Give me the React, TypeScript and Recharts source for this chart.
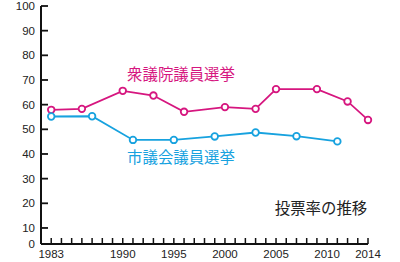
import * as React from "react";
import { LineChart, Line, XAxis, YAxis, ReferenceDot } from "recharts";

// 衆議院議員選挙 (magenta)
const shugiinYears = [1983, 1986, 1990, 1993, 1996, 2000, 2003, 2005, 2009, 2012, 2014];
const shugiinRates = [57.9, 58.3, 65.6, 63.7, 57.1, 59.0, 58.3, 66.3, 66.3, 61.3, 53.8];

// 市議会議員選挙 (cyan)
const shigikaiYears = [1983, 1987, 1991, 1995, 1999, 2003, 2007, 2011];
const shigikaiRates = [55.2, 55.3, 45.7, 45.7, 47.1, 48.7, 47.2, 45.1];

// axis ticks
const yTicks = [3.5, 10, 20, 30, 40, 50, 60, 70, 80, 90, 100];
const xLabelYears = [1983, 1990, 1995, 2000, 2005, 2010, 2014];
const xTickYears = Array.from({ length: 32 }, (_, i) => 1983 + i);

const MAGENTA = "#d6167f";
const CYAN = "#17a2df";
const NUM_FONT = "'Liberation Sans', Arial, sans-serif";
const JP_FONT = "'Noto Sans CJK JP', sans-serif";

const shugiinData = shugiinYears.map((year, i) => ({ year, rate: shugiinRates[i] }));
const shigikaiData = shigikaiYears.map((year, i) => ({ year, rate: shigikaiRates[i] }));

const XTick = (props: any) => {
    const { x, y, payload } = props;
    const showLabel = xLabelYears.includes(payload.value);
    return (
        <g>
            <line x1={x} y1={y} x2={x} y2={y - 6} stroke="#111" strokeWidth={1.5} />
            {showLabel && (
                <text x={x} y={y + 14} textAnchor="middle" fontSize={11.5} fontFamily={NUM_FONT} fill="#222">
                    {payload.value}
                </text>
            )}
        </g>
    );
};

const YTick = (props: any) => {
    const { x, y, payload } = props;
    // the source chart squeezes the bottom step, so "0" sits on the axis line
    const label = payload.value < 5 ? "0" : String(payload.value);
    return (
        <g>
            {payload.value >= 5 && <line x1={x} y1={y} x2={x + 7} y2={y} stroke="#111" strokeWidth={1.8} />}
            <text x={x - 6} y={y + 4} textAnchor="end" fontSize={11.5} fontFamily={NUM_FONT} fill="#222">
                {label}
            </text>
        </g>
    );
};

const seriesLabel = (value: string, fill: string) => ({
    value,
    position: "center" as const,
    fill,
    fontSize: 15.4,
    fontFamily: JP_FONT,
});

export default function App() {
    return (
        <div style={{ position: "absolute", left: 0, top: 0, background: "#fff" }}>
            <LineChart width={400} height={262} margin={{ top: 6, right: 32, bottom: 0, left: 0 }}>
                <XAxis
                    dataKey="year"
                    type="number"
                    domain={[1982, 2014]}
                    ticks={xTickYears}
                    interval={0}
                    tickSize={0}
                    tickMargin={0}
                    tick={<XTick />}
                    height={18}
                    axisLine={{ stroke: "#111", strokeWidth: 2 }}
                    allowDuplicatedCategory={false}
                />
                <YAxis
                    type="number"
                    domain={[3.5, 100]}
                    ticks={yTicks}
                    interval={0}
                    tickSize={0}
                    tickMargin={0}
                    tick={<YTick />}
                    width={41}
                    axisLine={{ stroke: "#111", strokeWidth: 2 }}
                />
                <Line
                    data={shugiinData}
                    dataKey="rate"
                    stroke={MAGENTA}
                    strokeWidth={1.8}
                    dot={{ r: 3.3, fill: "#fff", stroke: MAGENTA, strokeWidth: 1.8 }}
                    isAnimationActive={false}
                />
                <Line
                    data={shigikaiData}
                    dataKey="rate"
                    stroke={CYAN}
                    strokeWidth={1.8}
                    dot={{ r: 3.3, fill: "#fff", stroke: CYAN, strokeWidth: 1.8 }}
                    isAnimationActive={false}
                />
                <ReferenceDot x={1995.7} y={72.1} r={0} fill="none" stroke="none" label={seriesLabel("衆議院議員選挙", MAGENTA)} />
                <ReferenceDot x={1995.7} y={38.5} r={0} fill="none" stroke="none" label={seriesLabel("市議会議員選挙", CYAN)} />
                <ReferenceDot x={2009.4} y={17.8} r={0} fill="none" stroke="none" label={seriesLabel("投票率の推移", "#222")} />
            </LineChart>
        </div>
    );
}
